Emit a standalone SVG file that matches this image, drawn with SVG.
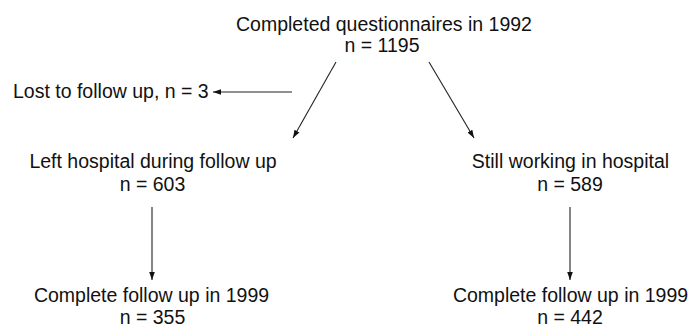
<svg xmlns="http://www.w3.org/2000/svg" width="694" height="330" viewBox="0 0 694 330">
<defs>
<style>
text{font-family:"Liberation Sans",Arial,sans-serif;font-size:19.5px;fill:#111;text-anchor:middle}
.lbl{text-anchor:start}
.c{stroke:#222;stroke-width:1.1;fill:none;marker-end:url(#ah)}
</style>
<marker id="ah" viewBox="0 0 10 10" refX="10" refY="5" markerWidth="8" markerHeight="8" markerUnits="userSpaceOnUse" orient="auto">
<path d="M0,1.5 L10,5 L0,8.5 z" fill="#111"/>
</marker>
</defs>
<rect width="694" height="330" fill="#fff"/>
<g id="connectors">
<line class="c" x1="292" y1="92" x2="213" y2="92"/>
<line class="c" x1="336" y1="62" x2="293" y2="138"/>
<line class="c" x1="429" y1="62" x2="474" y2="138"/>
<line class="c" x1="152" y1="207" x2="152" y2="280"/>
<line class="c" x1="570" y1="207" x2="570" y2="280"/>
</g>
<g id="n-start">
<text x="384" y="31">Completed questionnaires in 1992</text>
<text x="382" y="52">n = 1195</text>
</g>
<g id="n-lost">
<text class="lbl" x="13" y="98">Lost to follow up, n = 3</text>
</g>
<g id="n-left">
<text x="153" y="168">Left hospital during follow up</text>
<text x="152.5" y="191">n = 603</text>
</g>
<g id="n-still">
<text x="570.5" y="168">Still working in hospital</text>
<text x="570" y="191">n = 589</text>
</g>
<g id="n-left-fu">
<text x="151.5" y="302">Complete follow up in 1999</text>
<text x="152.5" y="324">n = 355</text>
</g>
<g id="n-still-fu">
<text x="570.5" y="302">Complete follow up in 1999</text>
<text x="570" y="324">n = 442</text>
</g>
</svg>
